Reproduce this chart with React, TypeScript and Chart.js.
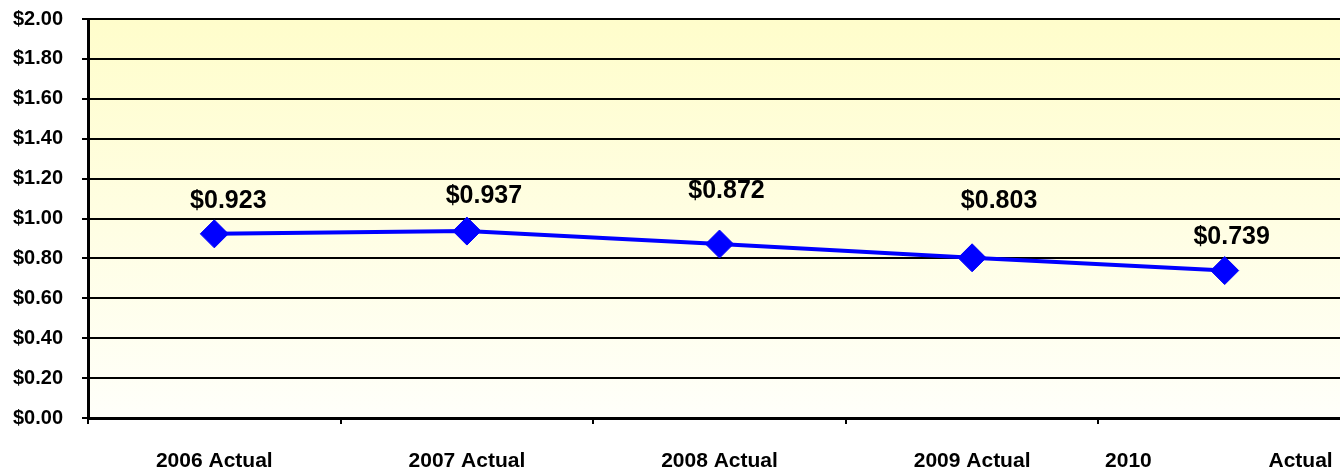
import React, { useEffect, useRef } from "react";
import { Chart, registerables } from "chart.js";

Chart.register(...registerables);

const categories = [
  "2006 Actual",
  "2007 Actual",
  "2008 Actual",
  "2009 Actual",
  "2010                    Actual  ",
];
const values = [0.923, 0.937, 0.872, 0.803, 0.739];
const yMin = 0;
const yMax = 2;
const yStep = 0.2;

// label placement (style): offsets from each marker, in pixels
const LABEL_OFFSETS: [number, number][] = [
  [14, -33],
  [17, -35],
  [7, -53],
  [27, -57],
  [7, -33],
];

const FONT = "'Liberation Sans', Arial, Helvetica, sans-serif";

const bgPlugin = {
  id: "plotBg",
  beforeDraw(chart: any) {
    const { ctx, chartArea } = chart;
    const { left, top, right, bottom } = chartArea;
    const g = ctx.createLinearGradient(0, top, 0, bottom);
    g.addColorStop(0, "#FFFDCB");
    g.addColorStop(1, "#FFFFFA");
    ctx.save();
    ctx.fillStyle = g;
    ctx.fillRect(left, top, right - left, bottom - top);
    ctx.restore();
  },
};

const labelPlugin = {
  id: "valueLabels",
  afterDatasetsDraw(chart: any) {
    const { ctx } = chart;
    const meta = chart.getDatasetMeta(0);
    ctx.save();
    ctx.font = `bold 25px ${FONT}`;
    ctx.fillStyle = "#000000";
    ctx.textAlign = "center";
    ctx.textBaseline = "middle";
    meta.data.forEach((pt: any, i: number) => {
      const [dx, dy] = LABEL_OFFSETS[i] || [0, -30];
      ctx.fillText("$" + values[i].toFixed(3), pt.x + dx, pt.y + dy);
    });
    ctx.restore();
  },
};

export default function App() {
  const ref = useRef<HTMLCanvasElement | null>(null);

  useEffect(() => {
    document.body.style.margin = "0";
    const canvas = ref.current;
    if (!canvas) return;
    const chart = new Chart(canvas, {
      type: "line",
      data: {
        labels: categories,
        datasets: [
          {
            data: values,
            borderColor: "#0000FF",
            backgroundColor: "#0000FF",
            borderWidth: 4,
            tension: 0,
            pointStyle: "rectRot",
            pointRadius: 14,
            pointHoverRadius: 14,
            pointBackgroundColor: "#0000FF",
            pointBorderColor: "#0000FF",
            pointBorderWidth: 1,
            fill: false,
            clip: false,
          },
        ],
      },
      options: {
        responsive: false,
        animation: false,
        events: [],
        layout: { autoPadding: false, padding: { top: 19, left: 0, right: 0, bottom: 0 } },
        plugins: {
          legend: { display: false },
          tooltip: { enabled: false },
          title: { display: false },
        },
        scales: {
          x: {
            type: "category",
            offset: true,
            afterFit(scale: any) {
              scale.height = 53;
              scale.paddingRight = 0;
              scale.paddingLeft = 0;
            },
            grid: {
              offset: true,
              drawOnChartArea: false,
              drawTicks: true,
              tickLength: 6,
              color: "#000000",
              lineWidth: 2,
            },
            border: { display: true, color: "#000000", width: 3 },
            ticks: {
              color: "#000000",
              font: { family: FONT, size: 21, weight: "bold" },
              padding: 25,
              maxRotation: 0,
              autoSkip: false,
            },
          },
          y: {
            min: yMin,
            max: yMax,
            afterFit(scale: any) {
              scale.width = 88;
              scale.paddingTop = 0;
              scale.paddingBottom = 0;
            },
            grid: {
              color: "#000000",
              lineWidth: 2,
              tickLength: 6,
              drawTicks: true,
            },
            border: { display: true, color: "#000000", width: 3 },
            ticks: {
              stepSize: yStep,
              color: "#000000",
              padding: 19,
              font: { family: FONT, size: 20, weight: "bold" },
              callback: (v: any) => "$" + Number(v).toFixed(2),
            },
          },
        },
      },
      plugins: [bgPlugin, labelPlugin],
    });
    return () => chart.destroy();
  }, []);

  return (
    <div
      style={{
        position: "fixed",
        left: 0,
        top: 0,
        width: 1340,
        height: 471,
        overflow: "hidden",
        background: "#ffffff",
      }}
    >
      <canvas ref={ref} width={1351} height={471} style={{ display: "block", width: 1351, height: 471 }} />
    </div>
  );
}
